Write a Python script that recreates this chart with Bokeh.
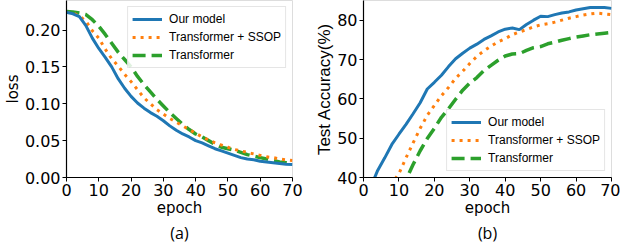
from bokeh.plotting import figure
from bokeh.layouts import row
from bokeh.models import Range1d, FixedTicker, PrintfTickFormatter, Title
from bokeh.embed import file_html
from bokeh.resources import INLINE

# ---------------- data ----------------
epochs = [0, 2, 4, 6, 8, 10, 12, 14, 16, 18, 20, 22, 24, 26, 28, 30, 32, 34,
          36, 38, 40, 42, 44, 46, 48, 50, 52, 54, 56, 58, 60, 62, 64, 66, 68, 70]

loss_ours = [0.224, 0.222, 0.218, 0.206, 0.189, 0.175, 0.163, 0.150, 0.134, 0.121,
             0.110, 0.101, 0.094, 0.088, 0.083, 0.077, 0.070, 0.064, 0.059, 0.055,
             0.050, 0.047, 0.043, 0.039, 0.036, 0.033, 0.030, 0.027, 0.025, 0.024,
             0.022, 0.021, 0.020, 0.019, 0.018, 0.0175]
loss_ssop = [0.224, 0.223, 0.219, 0.212, 0.199, 0.189, 0.174, 0.161, 0.151, 0.140,
             0.130, 0.119, 0.108, 0.100, 0.092, 0.086, 0.080, 0.075, 0.070, 0.065,
             0.060, 0.055, 0.051, 0.047, 0.044, 0.041, 0.038, 0.036, 0.034, 0.032,
             0.030, 0.028, 0.027, 0.025, 0.024, 0.023]
loss_trans = [0.225, 0.2245, 0.223, 0.221, 0.214, 0.205, 0.194, 0.182, 0.170, 0.160,
              0.150, 0.137, 0.126, 0.116, 0.106, 0.097, 0.088, 0.080, 0.072, 0.065,
              0.059, 0.055, 0.050, 0.045, 0.041, 0.039, 0.037, 0.034, 0.031, 0.029,
              0.027, 0.025, 0.023, 0.021, 0.020, 0.019]

acc_ours = [33.5, 37.5, 41.8, 45.0, 48.4, 51.0, 53.5, 56.2, 59.0, 62.5,
            64.2, 66.0, 68.2, 70.2, 71.6, 72.9, 73.9, 75.1, 76.0, 77.0,
            77.7, 78.0, 77.6, 78.9, 80.0, 81.0, 80.9, 81.4, 81.8, 82.1,
            82.6, 82.9, 83.2, 83.2, 83.2, 83.0]
acc_ssop = [28.0, 31.0, 34.0, 36.5, 38.5, 41.0, 45.0, 48.8, 52.5, 55.8,
            58.3, 60.8, 62.9, 65.2, 67.0, 69.0, 70.8, 72.2, 73.4, 74.5,
            75.3, 76.3, 77.0, 77.6, 78.3, 78.8, 79.1, 79.5, 80.0, 80.5,
            80.9, 81.3, 81.6, 81.8, 81.6, 81.4]
acc_trans = [20.0, 23.0, 26.0, 29.0, 32.0, 35.0, 39.4, 43.3, 46.8, 49.9,
             52.5, 55.3, 57.5, 59.9, 62.2, 64.0, 65.4, 67.2, 68.5, 69.8,
             70.9, 71.4, 71.5, 72.3, 73.0, 73.3, 74.0, 74.4, 74.9, 75.3,
             75.7, 76.0, 76.3, 76.5, 76.7, 76.9]

series_names = ["Our model", "Transformer + SSOP", "Transformer"]
x_ticks = [0, 10, 20, 30, 40, 50, 60, 70]
loss_ticks = [0.0, 0.05, 0.10, 0.15, 0.20]
acc_ticks = [40, 50, 60, 70, 80]
captions = ["(a)", "(b)"]

# ---------------- style ----------------
BLUE, ORANGE, GREEN = "#1f77b4", "#ff7f0e", "#2ca02c"
TICK_FONT = "DejaVu Sans"
LEG_FONT = "Liberation Sans"
H = 244


def make_fig(width, y_range, bl, br, ylabel, ylabel_font, ylabel_size, ylabel_standoff, caption):
    p = figure(width=width, height=H, x_range=Range1d(0, 70), y_range=y_range,
               output_backend="svg", toolbar_location=None,
               min_border_left=bl, min_border_right=br,
               min_border_top=0, min_border_bottom=67)
    p.grid.visible = False
    p.outline_line_color = "#dddddd"
    p.outline_line_width = 1
    p.background_fill_color = "white"
    p.border_fill_color = "white"
    for ax in (p.xaxis[0], p.yaxis[0]):
        ax.major_tick_out = 4
        ax.major_tick_in = 0
        ax.minor_tick_line_color = None
        ax.axis_line_color = "black"
        ax.axis_line_width = 1.2
        ax.major_tick_line_color = "black"
        ax.major_label_text_font = TICK_FONT
        ax.major_label_text_font_size = "16px"
        ax.major_label_text_color = "black"
        ax.major_label_standoff = 2
        ax.axis_label_text_font_style = "normal"
        ax.axis_label_text_color = "black"
        ax.axis_label_standoff = 0
    p.xaxis[0].ticker = FixedTicker(ticks=x_ticks)
    p.xaxis[0].axis_label = "epoch"
    p.xaxis[0].axis_label_text_font = TICK_FONT
    p.xaxis[0].axis_label_text_font_size = "15px"
    p.yaxis[0].axis_label = ylabel
    p.yaxis[0].axis_label_text_font = ylabel_font
    p.yaxis[0].axis_label_text_font_size = ylabel_size
    p.yaxis[0].axis_label_standoff = ylabel_standoff
    t = Title(text=caption, align="center", text_font="Open Sans",
              text_font_size="16px", text_font_style="normal",
              text_color="black", standoff=0)
    p.add_layout(t, "below")
    return p


def style_legend(p, location, margin):
    lg = p.legend[0]
    lg.location = location
    lg.margin = margin
    lg.padding = 4
    lg.spacing = 2
    lg.glyph_height = 16
    lg.label_height = 16
    lg.glyph_width = 30
    lg.label_standoff = 7
    lg.label_text_font = LEG_FONT
    lg.label_text_font_size = "12px"
    lg.label_text_color = "black"
    lg.border_line_color = "#cccccc"
    lg.border_line_width = 1
    lg.background_fill_alpha = 0.85
    lg.items = list(reversed(lg.items))


# ---------------- (a) loss ----------------
p1 = make_fig(310, Range1d(0, 0.24), 61, 18, "loss", TICK_FONT, "15px", 0, captions[0])
p1.yaxis[0].ticker = FixedTicker(ticks=loss_ticks)
p1.yaxis[0].formatter = PrintfTickFormatter(format="%.2f")
p1.line(epochs, loss_trans, color=GREEN, line_width=3.5, line_dash="13 6",
        legend_label=series_names[2])
p1.line(epochs, loss_ssop, color=ORANGE, line_width=3, line_dash="3 5",
        legend_label=series_names[1])
p1.line(epochs, loss_ours, color=BLUE, line_width=3, legend_label=series_names[0])
style_legend(p1, "top_right", 6)

# ---------------- (b) accuracy ----------------
p2 = make_fig(310, Range1d(40, 85), 53, 9, "Test Accuracy(%)", LEG_FONT, "17px", 0, captions[1])
p2.yaxis[0].ticker = FixedTicker(ticks=acc_ticks)
p2.line(epochs, acc_trans, color=GREEN, line_width=3.5, line_dash="13 6",
        legend_label=series_names[2])
p2.line(epochs, acc_ssop, color=ORANGE, line_width=3, line_dash="3 5",
        legend_label=series_names[1])
p2.line(epochs, acc_ours, color=BLUE, line_width=3, legend_label=series_names[0])
style_legend(p2, "bottom_right", 6)

layout = row(p1, p2, spacing=0)
open("out.html", "w").write(file_html(layout, INLINE))
